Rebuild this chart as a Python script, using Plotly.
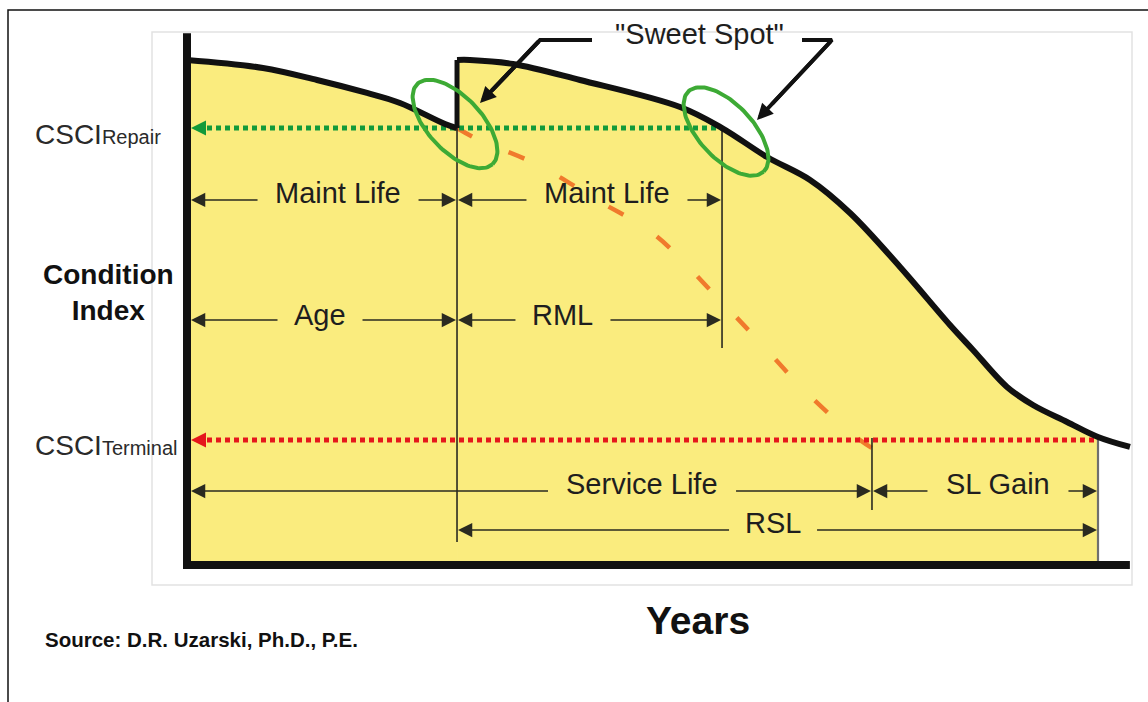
import numpy as np
import plotly.graph_objects as go

# ---------------- data (x = years, y = condition index) ----------------
before_repair_years = [0.0, 8.34, 14.27, 19.76, 23.38, 28.32, 29.64]
before_repair_ci = [100.0, 98.42, 96.04, 93.47, 91.49, 87.33, 86.53]

after_repair_years = [29.64, 31.06, 35.78, 43.14, 54.12, 58.73, 63.67, 68.39, 72.78,
                      78.27, 83.75, 86.28, 90.01, 92.86, 96.60, 100.0, 103.51]
after_repair_ci = [100.0, 100.0, 99.21, 96.04, 90.69, 86.53, 80.79, 76.24, 69.70,
                   59.01, 47.52, 42.57, 35.25, 31.68, 28.32, 25.35, 23.37]

no_repair_years = [29.64, 31.83, 38.53, 45.01, 51.37, 57.74, 62.35, 68.06, 73.87, 76.51]
no_repair_ci = [86.53, 84.36, 79.21, 72.28, 65.35, 53.86, 45.15, 34.06, 24.75, 21.78]

csci_repair = 86.53
csci_terminal = 24.75
repair_year = 29.64
sweet_spot_year = 58.73
service_life_end = 75.19
rsl_end = 100.0
axis_top_ci = 105.3
axis_right_year = 103.5

# dimension arrows: label, start year, end year
dim_labels = ["Maint Life", "Maint Life", "Age", "RML", "Service Life", "SL Gain", "RSL"]
dim_start = [0.0, repair_year, 0.0, repair_year, 0.0, service_life_end, repair_year]
dim_end = [repair_year, sweet_spot_year, repair_year, sweet_spot_year, service_life_end, rsl_end, rsl_end]

# sweet spot ellipse centres
ellipse_years = [29.42, 59.17]
ellipse_ci = [87.33, 85.84]

# ---------------- layout helpers (pixel scale of the axes) ----------------
W, H = 1148, 702
X0, PXX = 187, 9.11      # pixel of year 0, px per year
Y0, PXY = 565, 5.05      # pixel of CI 0, px per CI unit


def dx(px):
    return px / PXX


def dy(px):
    return px / PXY


# label placement (layout only)
dim_row = [72.28, 72.28, 48.51, 48.51, 14.65, 14.65, 6.93]
dim_label_x = [16.58, 46.10, 14.60, 41.27, 49.95, 89.02, 64.33]
dim_label_w = [128, 128, 52, 62, 155, 108, 55]
dim_label_dy = [1.4, 1.4, 1.0, 1.0, 1.3, 1.3, 1.3]

FONT = "Liberation Sans, Arial, sans-serif"
TXT = "#1e1e1e"
YELLOW = "#FAEC7E"
BLACK = "#111111"
THIN = "#2a2a20"

fig = go.Figure()

# yellow fill under the curve
fig.add_trace(go.Scatter(x=before_repair_years, y=before_repair_ci, mode="lines",
                         line=dict(shape="spline", width=0, color=YELLOW),
                         fill="tozeroy", fillcolor=YELLOW, hoverinfo="skip"))
n_fill = after_repair_years.index(rsl_end) + 1
fig.add_trace(go.Scatter(x=after_repair_years[:n_fill], y=after_repair_ci[:n_fill], mode="lines",
                         line=dict(shape="spline", width=0, color=YELLOW),
                         fill="tozeroy", fillcolor=YELLOW, hoverinfo="skip"))

# gray end line at RSL
fig.add_trace(go.Scatter(x=[rsl_end, rsl_end], y=[0, csci_terminal], mode="lines",
                         line=dict(color="#6f6f6f", width=2.2), hoverinfo="skip"))

# orange no-repair curve
fig.add_trace(go.Scatter(x=no_repair_years, y=no_repair_ci, mode="lines",
                         line=dict(shape="spline", color="#F07A2C", width=4.5, dash="17px,40px"),
                         hoverinfo="skip"))

# dotted reference lines
fig.add_trace(go.Scatter(x=[dx(20), sweet_spot_year], y=[csci_repair, csci_repair], mode="lines",
                         line=dict(color="#129A3A", width=5, dash="5px,4px"), hoverinfo="skip"))
fig.add_trace(go.Scatter(x=[dx(20), rsl_end], y=[csci_terminal, csci_terminal], mode="lines",
                         line=dict(color="#E5161C", width=5, dash="5px,4px"), hoverinfo="skip"))

# thin vertical guide lines
for xv, y_lo, y_hi in [(repair_year, dy(Y0 - 542), csci_repair),
                       (sweet_spot_year, dy(Y0 - 348), csci_repair),
                       (service_life_end, dy(Y0 - 510), dy(Y0 - 438))]:
    fig.add_trace(go.Scatter(x=[xv, xv], y=[y_lo, y_hi], mode="lines",
                             line=dict(color=THIN, width=1.6), hoverinfo="skip"))

# condition curve (black)
fig.add_trace(go.Scatter(x=before_repair_years, y=before_repair_ci, mode="lines",
                         line=dict(shape="spline", color=BLACK, width=6), hoverinfo="skip"))
fig.add_trace(go.Scatter(x=[repair_year, repair_year], y=[csci_repair, after_repair_ci[0]], mode="lines",
                         line=dict(color=BLACK, width=5), hoverinfo="skip"))
fig.add_trace(go.Scatter(x=after_repair_years, y=after_repair_ci, mode="lines",
                         line=dict(shape="spline", color=BLACK, width=6), hoverinfo="skip"))

# axes (thick)
fig.add_trace(go.Scatter(x=[0, 0, axis_right_year], y=[axis_top_ci, 0, 0], mode="lines",
                         line=dict(color=BLACK, width=8), hoverinfo="skip"))

# sweet spot ellipses
t = np.linspace(0, 2 * np.pi, 120)
a_px, b_px, th = 55, 27, np.deg2rad(47)
for cx, cy in zip(ellipse_years, ellipse_ci):
    ex = a_px * np.cos(t) * np.cos(th) - b_px * np.sin(t) * np.sin(th)
    ey = a_px * np.cos(t) * np.sin(th) + b_px * np.sin(t) * np.cos(th)
    fig.add_trace(go.Scatter(x=cx + ex / PXX, y=cy - ey / PXY, mode="lines",
                             line=dict(color="#3DAA35", width=4), hoverinfo="skip"))

# callout lines for "Sweet Spot"
callouts = [((592, 40), (540, 40), (480, 103)), ((802, 40), (832, 40), (757, 120))]
ann = []
for p0, p1, tip in callouts:
    xs = [dx(p[0] - X0) for p in (p0, p1, tip)]
    ys = [dy(Y0 - p[1]) for p in (p0, p1, tip)]
    fig.add_trace(go.Scatter(x=xs[:2] + [xs[1] + 0.8 * (xs[2] - xs[1])],
                             y=ys[:2] + [ys[1] + 0.8 * (ys[2] - ys[1])], mode="lines",
                             line=dict(color=BLACK, width=4), hoverinfo="skip"))
    ann.append(dict(x=xs[2], y=ys[2], ax=xs[1], ay=ys[1], xref="x", yref="y", axref="x", ayref="y",
                    text="", showarrow=True, arrowhead=2, arrowwidth=4, arrowsize=0.8,
                    arrowcolor=BLACK, standoff=0))


def arrow(x_tip, x_tail, y, color=THIN, width=1.5, size=1.9, standoff=1):
    return dict(x=x_tip, y=y, ax=x_tail, ay=y, xref="x", yref="y", axref="x", ayref="y",
                text="", showarrow=True, arrowhead=2, arrowwidth=width, arrowsize=size,
                arrowcolor=color, standoff=standoff)


# left arrowheads of dotted lines
ann.append(arrow(0, dx(19), csci_repair, color="#129A3A", width=3, size=1.0, standoff=4))
ann.append(arrow(0, dx(19), csci_terminal, color="#E5161C", width=3, size=1.0, standoff=4))

# dimension arrows and labels
for lab, s, e, row, lx, lw, ly in zip(dim_labels, dim_start, dim_end, dim_row,
                                       dim_label_x, dim_label_w, dim_label_dy):
    left_tail = lx - dx(lw / 2 + 15)
    right_tail = lx + dx(lw / 2 + 15)
    so_left = 4 if s == 0 else 1
    ann.append(arrow(s, left_tail, row, standoff=so_left))
    ann.append(arrow(e, right_tail, row, standoff=1))
    ann.append(dict(x=lx, y=row + ly, xref="x", yref="y", text=lab, showarrow=False,
                    font=dict(family=FONT, size=29, color=TXT)))

# text labels
ann.append(dict(x=dx(33 - X0), y=dy(Y0 - 134), xref="x", yref="y", xanchor="left",
                text='CSCI<span style="font-size:20px">Repair</span>', showarrow=False,
                font=dict(family=FONT, size=28, color="#2a2a2a")))
ann.append(dict(x=dx(33 - X0), y=dy(Y0 - 445), xref="x", yref="y", xanchor="left",
                text='CSCI<span style="font-size:20px">Terminal</span>', showarrow=False,
                font=dict(family=FONT, size=28, color="#2a2a2a")))
ann.append(dict(x=dx(108 - X0), y=dy(Y0 - 292), xref="x", yref="y",
                text="<b>Condition<br>Index</b>", showarrow=False,
                font=dict(family=FONT, size=28, color=BLACK)))
ann.append(dict(x=dx(698 - X0), y=dy(Y0 - 620), xref="x", yref="y",
                text="<b>Years</b>", showarrow=False,
                font=dict(family=FONT, size=39, color=BLACK)))
ann.append(dict(x=dx(43 - X0), y=dy(Y0 - 639), xref="x", yref="y", xanchor="left",
                text="<b>Source: D.R. Uzarski, Ph.D., P.E.</b>", showarrow=False,
                font=dict(family=FONT, size=20.5, color=BLACK)))
ann.append(dict(x=dx(699 - X0), y=dy(Y0 - 34), xref="x", yref="y",
                text='"Sweet Spot"', showarrow=False,
                font=dict(family=FONT, size=29, color=TXT)))

shapes = [
    # light gray inner frame
    dict(type="rect", xref="x", yref="y", x0=dx(152 - X0), x1=dx(1132 - X0),
         y0=dy(Y0 - 585), y1=dy(Y0 - 32), line=dict(color="#E2E2E2", width=1.5), layer="below"),
    # outer black border (left + top)
    dict(type="path", xref="paper", yref="paper",
         path=f"M {8 / W},0 L {8 / W},{1 - 10 / H} L 1,{1 - 10 / H}",
         line=dict(color="#111111", width=1.5)),
]

fig.update_layout(
    width=W, height=H, autosize=False,
    margin=dict(l=0, r=0, t=0, b=0),
    paper_bgcolor="white", plot_bgcolor="white",
    showlegend=False,
    xaxis=dict(range=[dx(-X0), dx(W - X0)], visible=False, fixedrange=True),
    yaxis=dict(range=[dy(Y0 - H), dy(Y0)], visible=False, fixedrange=True),
    annotations=ann, shapes=shapes,
)

fig.write_html("out.html", config={"displayModeBar": False},
               post_script="document.body.style.margin='0px';document.body.style.overflow='hidden';")
